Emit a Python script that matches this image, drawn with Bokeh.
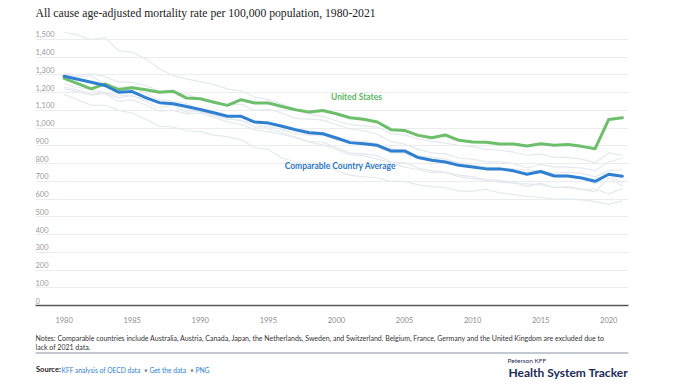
from bokeh.plotting import figure
from bokeh.models import Label, FixedTicker, Range1d, Span
from bokeh.layouts import column
from bokeh.core.properties import value
from bokeh.embed import file_html
from bokeh.resources import INLINE

years = list(range(1980, 2022))

us = [1280, 1250, 1221, 1249, 1217, 1227, 1216, 1202, 1208, 1169,
      1165, 1146, 1128, 1160, 1141, 1141, 1122, 1103, 1090, 1099,
      1081, 1058, 1050, 1034, 991, 987, 959, 946, 961, 931,
      922, 920, 910, 910, 899, 912, 903, 907, 897, 884,
      1049, 1058]

avg = [1292, 1275, 1258, 1240, 1202, 1206, 1172, 1143, 1137, 1122,
       1105, 1086, 1067, 1066, 1034, 1028, 1010, 991, 974, 968,
       944, 918, 912, 903, 871, 871, 834, 819, 809, 790,
       781, 770, 770, 759, 740, 755, 730, 730, 719, 700,
       740, 729]

austria = [1540, 1525, 1498, 1511, 1437, 1427, 1390, 1334, 1296, 1277,
           1262, 1245, 1221, 1210, 1175, 1160, 1135, 1105, 1080, 1065,
           1040, 1020, 1012, 1005, 970, 960, 940, 925, 915, 903,
           895, 880, 875, 865, 847, 855, 835, 835, 825, 805,
           860, 847]
netherlands = [1310, 1300, 1305, 1290, 1260, 1258, 1240, 1210, 1200, 1190,
               1165, 1150, 1130, 1135, 1100, 1105, 1085, 1055, 1050, 1045,
               1020, 995, 985, 965, 925, 910, 880, 860, 855, 830,
               825, 810, 810, 800, 775, 795, 780, 780, 775, 760,
               810, 830]
canada = [1250, 1230, 1215, 1200, 1185, 1180, 1160, 1140, 1135, 1110,
          1090, 1075, 1060, 1065, 1040, 1035, 1015, 995, 985, 975,
          950, 930, 925, 910, 885, 875, 845, 835, 825, 805,
          790, 780, 775, 770, 760, 760, 745, 750, 745, 725,
          760, 765]
sweden = [1230, 1215, 1190, 1200, 1170, 1185, 1150, 1115, 1130, 1090,
          1095, 1070, 1050, 1045, 1005, 1010, 990, 970, 960, 960,
          935, 920, 915, 895, 860, 860, 835, 825, 815, 805,
          790, 775, 775, 760, 740, 750, 735, 725, 720, 685,
          740, 690]
switzerland = [1220, 1205, 1185, 1195, 1150, 1160, 1130, 1095, 1100, 1080,
               1085, 1060, 1035, 1020, 990, 980, 965, 945, 925, 920,
               890, 860, 855, 845, 810, 805, 775, 760, 750, 735,
               725, 710, 705, 695, 670, 690, 665, 665, 655, 640,
               720, 675]
australia = [1300, 1290, 1295, 1245, 1230, 1235, 1195, 1160, 1150, 1140,
             1095, 1075, 1060, 1040, 1030, 995, 975, 950, 920, 905,
             880, 850, 845, 825, 805, 780, 765, 750, 750, 725,
             715, 705, 695, 690, 685, 680, 665, 670, 655, 655,
             630, 660]
japan = [1190, 1160, 1128, 1130, 1100, 1085, 1050, 1010, 1006, 985,
         980, 960, 950, 935, 890, 880, 830, 810, 800, 800,
         760, 735, 725, 720, 700, 700, 680, 670, 665, 645,
         645, 655, 635, 625, 615, 610, 600, 600, 595, 585,
         570, 590]

countries = [austria, netherlands, canada, sweden, switzerland, australia, japan]

y_ticks = list(range(0, 1600, 100))
y_tick_labels = [f"{v:,}" for v in y_ticks]
x_ticks = [1980, 1985, 1990, 1995, 2000, 2005, 2010, 2015, 2020]

title_text = "All cause age-adjusted mortality rate per 100,000 population, 1980-2021"
notes_1 = ("Notes: Comparable countries include Australia, Austria, Canada, Japan, the Netherlands, "
           "Sweden, and Switzerland. Belgium, France, Germany and the United Kingdom are excluded due to")
notes_2 = "lack of 2021 data."

W = 700
LEFT, RIGHT = 35, 72
HEAD_H, MAIN_H, FOOT_H = 22, 303, 59
X0, X1 = 1977.9, 2021.45


def blank(height):
    f = figure(width=W, height=height, output_backend="svg", toolbar_location=None,
               x_range=Range1d(LEFT, W - RIGHT), y_range=Range1d(0, height),
               x_axis_location=None, y_axis_location=None,
               min_border_left=LEFT, min_border_right=RIGHT,
               min_border_top=0, min_border_bottom=0)
    f.outline_line_color = None
    f.grid.visible = False
    f.background_fill_color = "white"
    f.border_fill_color = "white"
    return f


# ---- header (title); y measured upward from the header's bottom edge
h = blank(HEAD_H)
h.text(x=[35], y=[HEAD_H - 13], text=[title_text], text_font=value("Liberation Serif"),
       text_font_size="11.7px", text_color="#222222", text_align="left",
       text_baseline="middle")

# ---- main chart
p = figure(width=W, height=MAIN_H, output_backend="svg", toolbar_location=None,
           x_range=(X0, X1), y_range=(0, 1550), y_axis_location=None,
           min_border_left=LEFT, min_border_right=RIGHT, min_border_top=8,
           min_border_bottom=19)
p.outline_line_color = None
p.background_fill_color = "white"
p.border_fill_color = "white"

p.xgrid.visible = False
p.ygrid.ticker = FixedTicker(ticks=y_ticks)
p.ygrid.grid_line_color = "#ececec"
p.ygrid.grid_line_width = 1

p.xaxis.ticker = FixedTicker(ticks=x_ticks)
p.xaxis.major_tick_line_color = None
p.xaxis.minor_tick_line_color = None
p.xaxis.axis_line_color = "#5a5a5a"
p.xaxis.axis_line_width = 1.5
p.xaxis.major_label_text_font = "Lato"
p.xaxis.major_label_text_font_size = "7.5px"
p.xaxis.major_label_text_color = "#8c8c8c"
p.xaxis.major_label_standoff = 5

for c in countries:
    p.line(years, c, line_color="#e4e9ef", line_width=1.2, line_join="round")

p.line(years, us, line_color="#6dbf6b", line_width=3, line_join="round", line_cap="round")
p.line(years, avg, line_color="#2f80d1", line_width=3, line_join="round", line_cap="round")

p.text(x=[X0] * len(y_ticks), y=y_ticks, text=y_tick_labels,
       text_font=value("Lato"), text_font_size="7.5px", text_color="#9a9a9a",
       text_align="left", text_baseline="bottom", y_offset=-2)

p.text(x=[1999.6], y=[1173], text=["United States"], text_font=value("Lato"),
       text_font_style="bold", text_font_size="8.5px", text_color="#5cb85f",
       text_align="left", text_baseline="middle")
p.text(x=[1996.2], y=[787], text=["Comparable Country Average"], text_font=value("Lato"),
       text_font_style="bold", text_font_size="8.5px", text_color="#2b78c9",
       text_align="left", text_baseline="middle")

# ---- footer (notes, source, logo); given in page pixels, converted to footer units
f = blank(FOOT_H)
PAGE_BOTTOM = HEAD_H + MAIN_H + FOOT_H


def lab(px, py, text, size, color, font="Lato", style="normal", align="left"):
    f.add_layout(Label(x=px, y=PAGE_BOTTOM - py, text=text, text_font=font,
                       text_font_size=size, text_color=color, text_font_style=style,
                       text_align=align, text_baseline="middle"))


lab(35, 337.5, notes_1, "7px", "#333333")
lab(35, 346, notes_2, "7px", "#333333")
sep_y = PAGE_BOTTOM - 352.5
f.add_layout(Span(location=sep_y, dimension="width", line_color="#b0b7c0", line_width=1.2))
f.segment(x0=[35], y0=[sep_y], x1=[628], y1=[sep_y], line_color="#b0b7c0", line_width=1.2)

SY = 369
lab(35.5, SY, "Source:", "7.5px", "#222222", style="bold")
lab(61, SY, "KFF analysis of OECD data", "6.7px", "#2f7fd0")
lab(143.5, SY, "\u2022", "6.7px", "#888888")
lab(149, SY, "Get the data", "6.7px", "#2f7fd0")
lab(189.5, SY, "\u2022", "6.7px", "#888888")
lab(195, SY, "PNG", "6.7px", "#2f7fd0")

lab(507, 359.5, "Peterson KFF", "6.5px", "#1c2a5a")
lab(627.5, 371.5, "Health System Tracker", "12px", "#1c2a5a", style="bold", align="right")

layout = column(h, p, f, spacing=0)
open("out.html", "w").write(file_html(layout, INLINE))
